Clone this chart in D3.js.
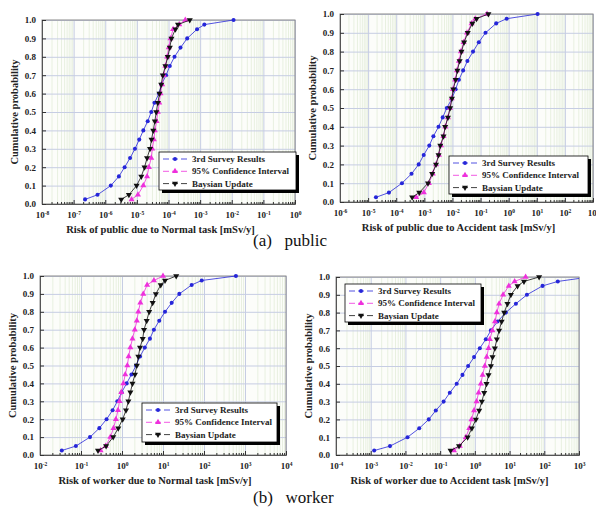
<!DOCTYPE html>
<html>
<head>
<meta charset="utf-8">
<script src="https://cdn.jsdelivr.net/npm/d3@7"></script>
<style>
  body { margin: 0; background: #fff; }
  svg { display: block; }
</style>
</head>
<body>
<div id="chart"></div>
<script>
// cumulative probability levels shared by every curve
var probs = [0.025, 0.05, 0.1, 0.15, 0.2, 0.25, 0.3, 0.35, 0.4, 0.45, 0.5,
             0.55, 0.6, 0.65, 0.7, 0.75, 0.8, 0.85, 0.9, 0.95, 0.975, 1.0];

var seriesNames = ["3rd Survey Results", "95% Confidence Interval", "Baysian Update"];

// (a) public, normal task
var publicNormalSurvey = [2.3e-7, 5.7e-7, 1.5e-6, 2.7e-6, 4.1e-6, 6.1e-6, 8.7e-6, 1.19e-5, 1.6e-5, 2.2e-5, 2.85e-5,
                          3.6e-5, 5.0e-5, 6.0e-5, 8.4e-5, 1.1e-4, 1.55e-4, 2.4e-4, 3.9e-4, 8.0e-4, 1.36e-3, 1.14e-2];
var publicNormalCI     = [6.8e-6, 1.08e-5, 1.6e-5, 2.1e-5, 2.4e-5, 2.85e-5, 3.06e-5, 3.45e-5, 3.7e-5, 4.2e-5, 4.6e-5,
                          5.1e-5, 5.6e-5, 6.3e-5, 7.1e-5, 8.0e-5, 9.1e-5, 1.02e-4, 1.16e-4, 1.4e-4, 2.2e-4, 3.4e-4];
var publicNormalBayes  = [3.2e-6, 5.6e-6, 9.8e-6, 1.38e-5, 1.75e-5, 2.1e-5, 2.6e-5, 2.9e-5, 3.3e-5, 3.7e-5, 4.1e-5,
                          4.6e-5, 5.2e-5, 5.9e-5, 6.6e-5, 8.0e-5, 9.5e-5, 1.1e-4, 1.24e-4, 1.66e-4, 2.0e-4, 4.7e-4];

// (a) public, accident task
var publicAccSurvey = [1.9e-5, 5.5e-5, 1.6e-4, 3.5e-4, 6.3e-4, 9.5e-4, 1.5e-3, 2.1e-3, 3.2e-3, 4.5e-3, 6.3e-3,
                       9.6e-3, 0.013, 0.017, 0.024, 0.034, 0.054, 0.087, 0.15, 0.36, 0.85, 10.7];
var publicAccCI     = [5.1e-4, 9.6e-4, 1.45e-3, 2.0e-3, 2.6e-3, 3.3e-3, 3.9e-3, 4.8e-3, 5.6e-3, 6.9e-3, 8.2e-3,
                       9.4e-3, 0.0105, 0.0125, 0.0145, 0.017, 0.02, 0.025, 0.033, 0.048, 0.065, 0.17];
var publicAccBayes  = [3.7e-4, 6.6e-4, 1.35e-3, 1.9e-3, 2.6e-3, 3.2e-3, 3.7e-3, 4.8e-3, 5.5e-3, 6.9e-3, 8.3e-3,
                       9.6e-3, 0.0107, 0.013, 0.015, 0.018, 0.021, 0.026, 0.035, 0.051, 0.072, 0.19];

// (b) worker, normal task
var workerNormalSurvey = [0.034, 0.075, 0.166, 0.28, 0.42, 0.59, 0.77, 0.98, 1.3, 1.7, 2.2,
                          2.75, 3.6, 4.8, 6.0, 8.1, 11.2, 16.3, 25, 50, 88, 600];
var workerNormalCI     = [0.30, 0.40, 0.52, 0.62, 0.71, 0.80, 0.87, 0.96, 1.08, 1.2, 1.35,
                          1.45, 1.6, 1.8, 2.05, 2.3, 2.5, 2.8, 3.3, 4.1, 6.0, 10];
var workerNormalBayes  = [0.26, 0.41, 0.61, 0.81, 1.04, 1.25, 1.43, 1.6, 1.8, 2.07, 2.3,
                          2.5, 2.75, 3.2, 3.45, 4.0, 4.6, 5.6, 6.7, 8.8, 11.2, 21];

// (b) worker, accident task
var workerAccSurvey = [1.26e-3, 3.6e-3, 0.0115, 0.025, 0.047, 0.075, 0.126, 0.19, 0.30, 0.44, 0.64,
                       0.95, 1.39, 2.07, 2.9, 4.5, 7.8, 15.2, 31.6, 89, 245, 2000];
var workerAccCI     = [0.25, 0.37, 0.55, 0.69, 0.8, 0.95, 1.12, 1.28, 1.49, 1.67, 1.94,
                       2.2, 2.48, 2.7, 3.2, 3.8, 4.3, 5.0, 6.5, 9.5, 14, 29];
var workerAccBayes  = [0.2, 0.35, 0.62, 0.82, 1.07, 1.33, 1.59, 1.86, 2.17, 2.48, 2.9,
                       3.23, 3.77, 4.3, 5.0, 5.9, 7.0, 8.7, 10.9, 17, 26, 71];

var yTicks = [0, 0.1, 0.2, 0.3, 0.4, 0.5, 0.6, 0.7, 0.8, 0.9, 1.0];

var width = 596;
var height = 515;
var font = "'Liberation Serif', 'Times New Roman', serif";
var colors = ["#2626d9", "#ee30dc", "#111111"];

var svg = d3.select("#chart")
  .append("svg")
    .attr("width", width)
    .attr("height", height);

var panels = [
  { id: "p1", left: 42, right: 295, top: 20, bottom: 204, decades: [-8, 0],
    title: "Risk of public due to Normal task [mSv/y]",
    series: [publicNormalSurvey, publicNormalCI, publicNormalBayes],
    legend: { x: 159, y: 152, w: 137, h: 38 } },
  { id: "p2", left: 340, right: 593, top: 14, bottom: 202, decades: [-6, 3],
    title: "Risk of public due to Accident task [mSv/y]",
    series: [publicAccSurvey, publicAccCI, publicAccBayes],
    legend: { x: 449, y: 156, w: 139, h: 38 } },
  { id: "p3", left: 40, right: 286, top: 276, bottom: 455, decades: [-2, 4],
    title: "Risk of worker due to Normal task [mSv/y]",
    series: [workerNormalSurvey, workerNormalCI, workerNormalBayes],
    legend: { x: 142, y: 403, w: 135, h: 39 } },
  { id: "p4", left: 336, right: 579, top: 277, bottom: 455, decades: [-4, 3],
    title: "Risk of worker due to Accident task [mSv/y]",
    series: [workerAccSurvey, workerAccCI, workerAccBayes],
    legend: { x: 345, y: 284, w: 136, h: 38 } }
];

function symbolFor(i) {
  if (i == 0) return d3.symbol().type(d3.symbolCircle).size(13);
  return d3.symbol().type(d3.symbolTriangle).size(16);
}

function drawMarker(g, i, cx, cy) {
  var m = g.append("path")
    .attr("d", symbolFor(i)())
    .attr("fill", colors[i]);
  if (i == 2) m.attr("transform", "translate(" + cx + "," + cy + ") rotate(180)");
  else m.attr("transform", "translate(" + cx + "," + cy + ")");
}

function drawPanel(p) {
  var w = p.right - p.left;
  var h = p.bottom - p.top;
  var majors = d3.range(p.decades[0], p.decades[1] + 1).map(function (e) { return Math.pow(10, e); });
  var minors = [];
  majors.slice(0, -1).forEach(function (m) {
    for (var k = 2; k < 10; k++) minors.push(m * k);
  });

  var x = d3.scaleLog().domain([majors[0], majors[majors.length - 1]]).range([p.left, p.right]);
  var y = d3.scaleLinear().domain([0, 1]).range([p.bottom, p.top]);

  var g = svg.append("g");

  // plot background
  g.append("rect")
    .attr("x", p.left).attr("y", p.top)
    .attr("width", w).attr("height", h)
    .attr("fill", "#fcfdfa");

  // minor vertical grid (gives the faint green tint)
  g.append("g")
    .attr("transform", "translate(0," + p.bottom + ")")
    .call(d3.axisBottom(x).tickValues(minors).tickSize(-h).tickFormat(""))
    .call(function (a) {
      a.select(".domain").remove();
      a.selectAll("line").attr("stroke", "#e8f0e0").attr("stroke-width", 1);
    });

  // major grid
  g.append("g")
    .attr("transform", "translate(0," + p.bottom + ")")
    .call(d3.axisBottom(x).tickValues(majors).tickSize(-h).tickFormat(""))
    .call(function (a) {
      a.select(".domain").remove();
      a.selectAll("line").attr("stroke", "#c6cde3").attr("stroke-width", 1);
    });
  g.append("g")
    .attr("transform", "translate(" + p.left + ",0)")
    .call(d3.axisLeft(y).tickValues(yTicks).tickSize(-w).tickFormat(""))
    .call(function (a) {
      a.select(".domain").remove();
      a.selectAll("line").attr("stroke", "#c6cde3").attr("stroke-width", 1);
    });

  // frame
  g.append("rect")
    .attr("x", p.left).attr("y", p.top)
    .attr("width", w).attr("height", h)
    .attr("fill", "none")
    .attr("stroke", "#8a8a8a")
    .attr("stroke-width", 1);

  // bottom axis: inward ticks, minor ticks, labels 10^n
  g.append("g")
    .attr("transform", "translate(0," + p.bottom + ")")
    .call(d3.axisBottom(x).tickValues(minors).tickSize(-2).tickFormat(""))
    .call(function (a) {
      a.select(".domain").remove();
      a.selectAll("line").attr("stroke", "#333");
    });
  var xa = g.append("g")
    .attr("transform", "translate(0," + p.bottom + ")")
    .call(d3.axisBottom(x).tickValues(majors).tickSize(-4).tickPadding(7).tickFormat(""));
  xa.select(".domain").attr("stroke", "#555");
  xa.selectAll("line").attr("stroke", "#333");
  xa.selectAll(".tick text").each(function (d) {
    var t = d3.select(this)
      .attr("font-family", font)
      .attr("font-weight", "bold")
      .attr("font-size", 9)
      .attr("fill", "#222")
      .attr("y", 8)
      .attr("dy", "0.71em");
    t.append("tspan").text("10");
    t.append("tspan")
      .attr("font-size", 5.5)
      .attr("dy", "-0.55em")
      .text(Math.round(Math.log10(d)));
  });

  // left axis
  var ya = g.append("g")
    .attr("transform", "translate(" + p.left + ",0)")
    .call(d3.axisLeft(y).tickValues(yTicks).tickSize(-4).tickPadding(6).tickFormat(d3.format(".1f")));
  ya.select(".domain").attr("stroke", "#555");
  ya.selectAll("line").attr("stroke", "#333");
  ya.selectAll("text")
    .attr("font-family", font)
    .attr("font-weight", "bold")
    .attr("font-size", 9)
    .attr("fill", "#222");

  // axis titles
  g.append("text")
    .attr("x", (p.left + p.right) / 2 - 8)
    .attr("y", p.bottom + 29)
    .attr("text-anchor", "middle")
    .attr("font-family", font)
    .attr("font-weight", "bold")
    .attr("font-size", 10.5)
    .attr("fill", "#222")
    .text(p.title);

  g.append("text")
    .attr("transform", "rotate(-90)")
    .attr("x", -(p.top + p.bottom) / 2)
    .attr("y", p.left - 24)
    .attr("text-anchor", "middle")
    .attr("font-family", font)
    .attr("font-weight", "bold")
    .attr("font-size", 10.5)
    .attr("fill", "#222")
    .text("Cumulative probability");

  // clip so curves stay inside the frame horizontally
  g.append("defs").append("clipPath")
    .attr("id", "clip-" + p.id)
    .append("rect")
      .attr("x", p.left).attr("y", p.top - 6)
      .attr("width", w).attr("height", h + 12);

  var plot = g.append("g").attr("clip-path", "url(#clip-" + p.id + ")");

  var line = d3.line()
    .x(function (d) { return x(d[0]); })
    .y(function (d) { return y(d[1]); });

  p.series.forEach(function (vals, i) {
    var pts = vals.map(function (v, k) { return [v, probs[k]]; });
    plot.append("path")
      .datum(pts)
      .attr("d", line)
      .attr("fill", "none")
      .attr("stroke", colors[i])
      .attr("stroke-width", 0.8);
    pts.forEach(function (d) {
      drawMarker(plot, i, x(d[0]), y(d[1]));
    });
  });

  // legend with drop shadow
  var L = p.legend;
  var lg = g.append("g");
  lg.append("rect")
    .attr("x", L.x + 3).attr("y", L.y + 3)
    .attr("width", L.w).attr("height", L.h)
    .attr("fill", "#000");
  lg.append("rect")
    .attr("x", L.x).attr("y", L.y)
    .attr("width", L.w).attr("height", L.h)
    .attr("fill", "#fff")
    .attr("stroke", "#000")
    .attr("stroke-width", 0.8);
  seriesNames.forEach(function (name, i) {
    var ry = L.y + 7 + i * 12.3;
    lg.append("line")
      .attr("x1", L.x + 4).attr("x2", L.x + 28)
      .attr("y1", ry).attr("y2", ry)
      .attr("stroke", colors[i])
      .attr("stroke-width", 0.8)
      .attr("stroke-dasharray", "6,3");
    drawMarker(lg, i, L.x + 16, ry);
    lg.append("text")
      .attr("x", L.x + 33)
      .attr("y", ry)
      .attr("dy", "0.35em")
      .attr("font-family", font)
      .attr("font-weight", "bold")
      .attr("font-size", 9)
      .attr("fill", "#222")
      .text(name);
  });
}

panels.forEach(drawPanel);

// sub-figure captions
svg.append("text")
  .attr("x", 253).attr("y", 246)
  .attr("font-family", font)
  .attr("font-size", 17)
  .attr("fill", "#111")
  .attr("xml:space", "preserve")
  .text("(a)   public");

svg.append("text")
  .attr("x", 253).attr("y", 503)
  .attr("font-family", font)
  .attr("font-size", 17)
  .attr("fill", "#111")
  .attr("xml:space", "preserve")
  .text("(b)   worker");
</script>
</body>
</html>
